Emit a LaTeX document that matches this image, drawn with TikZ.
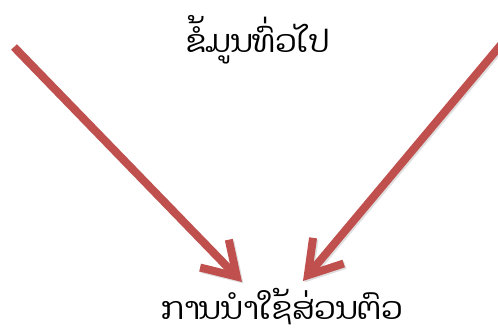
\documentclass[tikz,border=0pt]{standalone}
\usepackage{fontspec}
\newfontfamily\laofont[Script=Lao]{Dhyana}
\usetikzlibrary{arrows.meta,positioning}
\definecolor{arrowred}{RGB}{192,80,77}

\begin{document}
\begin{tikzpicture}[x=1pt, y=-1pt,
	   lbl/.style={inner sep=0pt, font=\laofont\fontsize{31}{34}\selectfont},
	   bigarrow/.style={draw=arrowred, line width=8pt, -{Straight Barb[length=32pt,width=40pt]}},
	   shade/.style={draw=black!25, line width=8pt, opacity=0.5, -{Straight Barb[length=32pt,width=40pt]}}]
	  \useasboundingbox (0,0) rectangle (498,332);
	  \node[lbl] (info) at (258,40) {ຂໍ້ມູນທົ່ວໄປ};
	  \node[lbl] (use) at (282,307) {ການນຳໃຊ້ສ່ວນຕົວ};
	  \coordinate (ls) at (14,47);
	  \coordinate (le) at (242,282);
	  \coordinate (rs) at (520,22);
	  \coordinate (re) at (303,281);
	  % soft shadow, then the arrows
	  \draw[shade] ([shift={(1.5,1.5)}]ls) -- ([shift={(1.5,1.5)}]le);
	  \draw[shade] ([shift={(1.5,1.5)}]rs) -- ([shift={(1.5,1.5)}]re);
	  \draw[bigarrow] (ls) -- (le);
	  \draw[bigarrow] (rs) -- (re);
	\end{tikzpicture}
\end{document}
